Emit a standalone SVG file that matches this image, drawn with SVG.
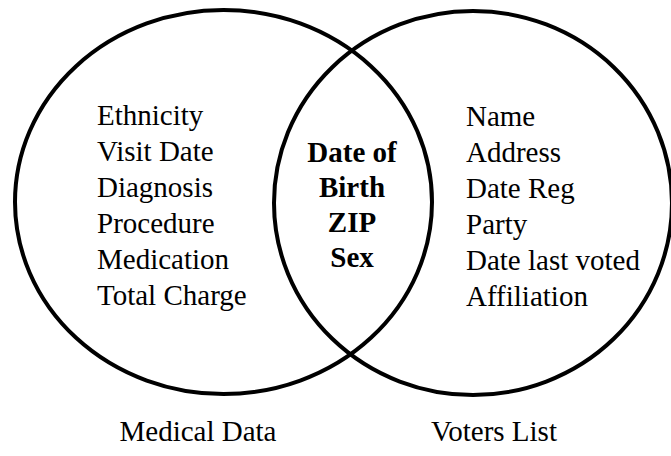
<svg xmlns="http://www.w3.org/2000/svg" width="671" height="456" viewBox="0 0 671 456">
<rect width="671" height="456" fill="#fff"/>
<g id="medical">
<ellipse cx="223.5" cy="202" rx="208.5" ry="192" fill="none" stroke="#000" stroke-width="4"/>
<text x="97" y="125" font-size="29" font-family="'Times New Roman', 'Liberation Serif', Tinos, serif">Ethnicity</text>
<text x="97" y="161" font-size="29" font-family="'Times New Roman', 'Liberation Serif', Tinos, serif">Visit Date</text>
<text x="97" y="197" font-size="29" font-family="'Times New Roman', 'Liberation Serif', Tinos, serif">Diagnosis</text>
<text x="97" y="233" font-size="29" font-family="'Times New Roman', 'Liberation Serif', Tinos, serif">Procedure</text>
<text x="97" y="269" font-size="29" font-family="'Times New Roman', 'Liberation Serif', Tinos, serif">Medication</text>
<text x="97" y="305" font-size="29" font-family="'Times New Roman', 'Liberation Serif', Tinos, serif">Total Charge</text>
<text x="198" y="441" font-size="29" font-family="'Times New Roman', 'Liberation Serif', Tinos, serif" text-anchor="middle">Medical Data</text>
</g>
<g id="voters">
<ellipse cx="473" cy="203" rx="199" ry="192" fill="none" stroke="#000" stroke-width="4"/>
<text x="466" y="126" font-size="29" font-family="'Times New Roman', 'Liberation Serif', Tinos, serif">Name</text>
<text x="466" y="162" font-size="29" font-family="'Times New Roman', 'Liberation Serif', Tinos, serif">Address</text>
<text x="466" y="198" font-size="29" font-family="'Times New Roman', 'Liberation Serif', Tinos, serif">Date Reg</text>
<text x="466" y="234" font-size="29" font-family="'Times New Roman', 'Liberation Serif', Tinos, serif">Party</text>
<text x="466" y="270" font-size="29" font-family="'Times New Roman', 'Liberation Serif', Tinos, serif">Date last voted</text>
<text x="466" y="306" font-size="29" font-family="'Times New Roman', 'Liberation Serif', Tinos, serif">Affiliation</text>
<text x="494" y="441" font-size="29" font-family="'Times New Roman', 'Liberation Serif', Tinos, serif" text-anchor="middle">Voters List</text>
</g>
<g id="overlap">
<text x="352" y="162" font-size="29" font-family="'Times New Roman', 'Liberation Serif', Tinos, serif" font-weight="bold" text-anchor="middle">Date of</text>
<text x="352" y="197" font-size="29" font-family="'Times New Roman', 'Liberation Serif', Tinos, serif" font-weight="bold" text-anchor="middle">Birth</text>
<text x="352" y="232" font-size="29" font-family="'Times New Roman', 'Liberation Serif', Tinos, serif" font-weight="bold" text-anchor="middle">ZIP</text>
<text x="352" y="267" font-size="29" font-family="'Times New Roman', 'Liberation Serif', Tinos, serif" font-weight="bold" text-anchor="middle">Sex</text>
</g>
<g id="connectors"></g>
</svg>
